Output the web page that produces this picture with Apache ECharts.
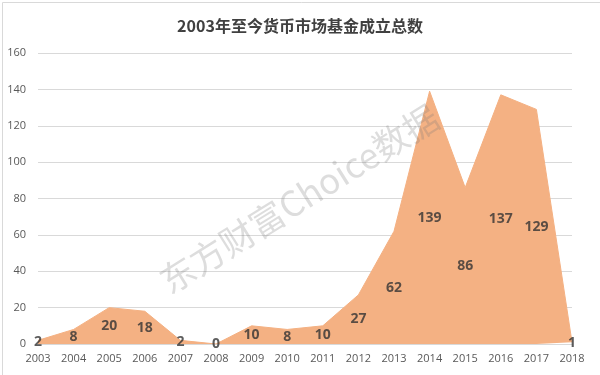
<!DOCTYPE html>
<html><head><meta charset="utf-8">
<script src="https://cdn.jsdelivr.net/npm/echarts@6/dist/echarts.min.js"></script>
<style>html,body{margin:0;padding:0;background:#fff}#c{width:600px;height:375px}</style>
</head><body><div id="c"></div>
<script>
const categories = ['2003','2004','2005','2006','2007','2008','2009','2010','2011','2012','2013','2014','2015','2016','2017','2018'];
const fundCounts = [2,8,20,18,2,0,10,8,10,27,62,139,86,137,129,1];
const titleText = '2003年至今货币市场基金成立总数';
const watermarkText = '东方财富Choice数据';

const chart = echarts.init(document.getElementById('c'), null, {renderer:'canvas'});
const labelPoints = fundCounts.map((v,i)=>[i, v/2, v]);
chart.setOption({
  animation:false,
  title:{text:titleText,left:'center',top:13,textStyle:{fontFamily:'"Noto Sans CJK SC",sans-serif',fontSize:16,fontWeight:'bold',color:'#404040'}},
  grid:{left:38,right:28,top:53,bottom:31},
  xAxis:{type:'category',data:categories,boundaryGap:false,
    axisLine:{lineStyle:{color:'#d9d9d9'}},axisTick:{show:false},
    axisLabel:{color:'#595959',fontSize:11,margin:9,fontFamily:'"Open Sans",sans-serif'}},
  yAxis:{type:'value',min:0,max:160,interval:20,
    axisLine:{show:false},axisTick:{show:false},
    splitLine:{lineStyle:{color:'#d9d9d9'}},
    axisLabel:{color:'#595959',fontSize:11,margin:12,fontFamily:'"Open Sans",sans-serif'}},
  series:[
    {type:'line',data:fundCounts,symbol:'none',lineStyle:{color:'#F4B183',width:1},
     areaStyle:{color:'#F4B183',opacity:1},z:2},
    {type:'scatter',data:labelPoints,symbolSize:0,z:3,
     label:{show:true,position:'inside',formatter:p=>p.data[2],fontSize:14,fontWeight:'bold',color:'#333333',fontFamily:'"Open Sans",sans-serif'}}
  ],
  graphic:[
    {type:'rect',left:0,top:0,shape:{width:599,height:374},style:{fill:'none',stroke:'#d9d9d9',lineWidth:1},z:0},
    {type:'text',x:299,y:199,rotation:32*Math.PI/180,z:100,
     style:{text:watermarkText,fontSize:35,fontFamily:'"Noto Sans CJK SC",sans-serif',fill:'rgba(120,120,120,0.25)',align:'center',verticalAlign:'middle'}}
  ]
});
</script></body></html>
